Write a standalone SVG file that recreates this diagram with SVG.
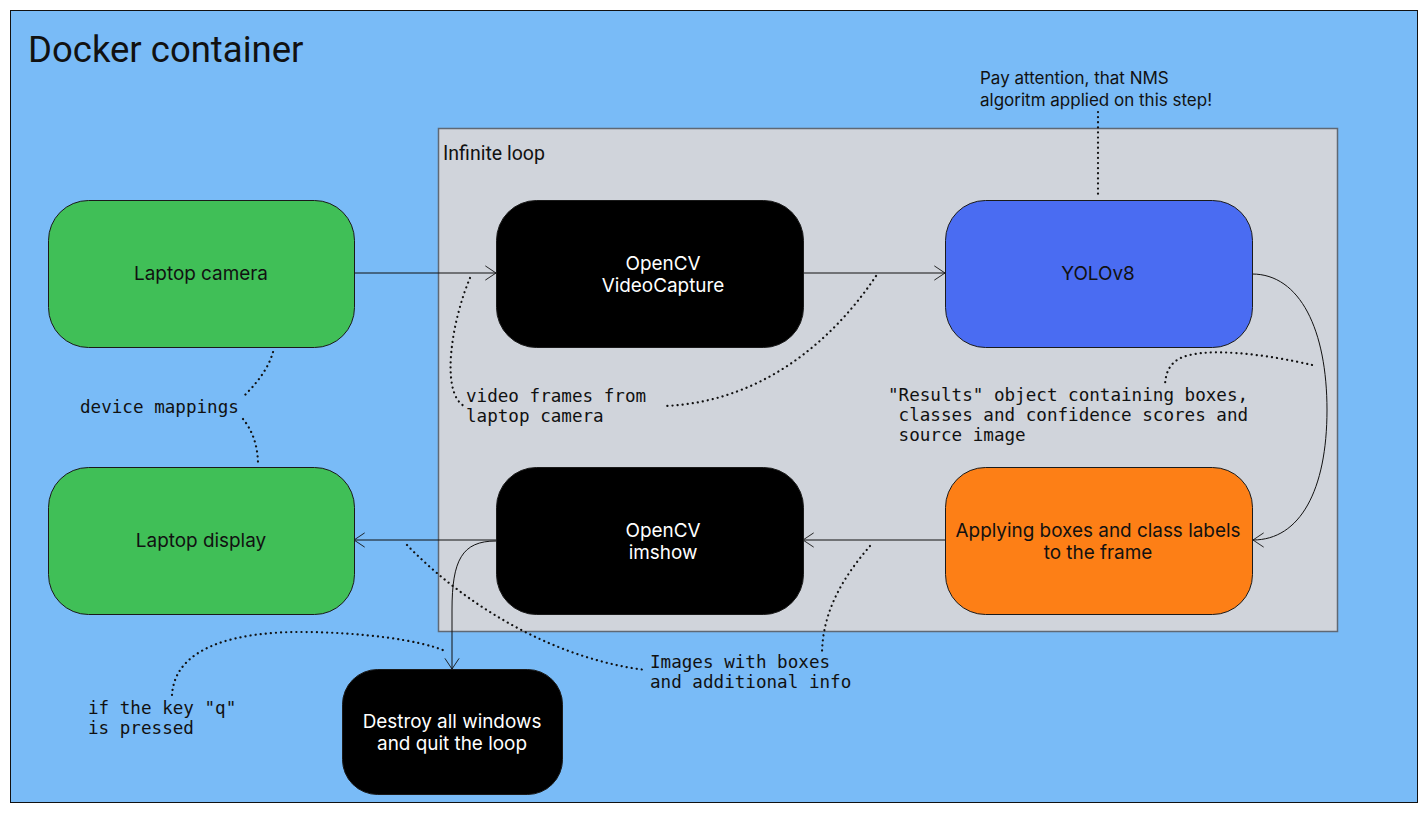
<svg xmlns="http://www.w3.org/2000/svg" width="1428" height="815" viewBox="0 0 1428 815">
<style>
.node{stroke:#1a1a1a;stroke-width:1}
.lbl{font-family:Inter,"Noto Sans",sans-serif;font-size:18.9px;text-anchor:middle}
.wt{fill:#ffffff}
.bt{fill:#111111}
.mono{font-family:"DejaVu Sans Mono","Liberation Mono",monospace;font-size:17.6px;fill:#111111}
.note{font-family:Inter,"Noto Sans",sans-serif;font-size:17px;fill:#111111}
.conn{fill:none;stroke:#111111;stroke-width:1}
.dot{fill:none;stroke:#111111;stroke-width:2.2;stroke-dasharray:0.1 5;stroke-linecap:round}
</style>
<defs>
<marker id="arr" markerUnits="userSpaceOnUse" markerWidth="16" markerHeight="16" viewBox="-1 -1 14 18" refX="12" refY="8" orient="auto">
<path d="M0,0 L12,8 L0,16" fill="none" stroke="#111111" stroke-width="1"/>
</marker>
</defs>
<rect width="1428" height="815" fill="#ffffff"/>
<g id="docker-container">
<rect x="10.5" y="10.5" width="1407" height="792" fill="#79bbf7" stroke="#111111" stroke-width="1"/>
<text x="28" y="62" font-family="Roboto,'Noto Sans',sans-serif" font-size="36.5" fill="#111111">Docker container</text>
</g>
<g id="infinite-loop">
<rect x="438.5" y="128.5" width="899" height="503" fill="#d0d4db" stroke="#5f6874" stroke-width="1.5"/>
<text x="443" y="160" font-family="Roboto,'Noto Sans',sans-serif" font-size="19.5" fill="#111111">Infinite loop</text>
</g>
<g id="connectors">
<path class="conn" d="M354,273 L496,273" marker-end="url(#arr)"/>
<path class="conn" d="M803,273 L945,273" marker-end="url(#arr)"/>
<path class="conn" d="M1252,274 C1300,274 1327,330 1327,410 C1327,490 1300,540 1253,540" marker-end="url(#arr)"/>
<path class="conn" d="M945,540 L803,540" marker-end="url(#arr)"/>
<path class="conn" d="M496,540 L354,540" marker-end="url(#arr)"/>
<path class="conn" d="M496,541 C462,541 452,560 452,610 L452,669" marker-end="url(#arr)"/>
<path class="dot" d="M470,278 C452,320 440,392 464,406"/>
<path class="dot" d="M876,276 C840,330 770,402 664,406"/>
<path class="dot" d="M1098,112 L1098,197"/>
<path class="dot" d="M1312,365 C1270,355 1200,345 1177,360 C1168,366 1165,376 1165,387"/>
<path class="dot" d="M273,352 C268,370 255,385 243,397"/>
<path class="dot" d="M243,419 C252,430 258,445 258,465"/>
<path class="dot" d="M407,545 C470,610 560,660 646,670"/>
<path class="dot" d="M870,546 C845,575 822,610 822,655"/>
<path class="dot" d="M172,695 C175,645 240,632 300,632 C360,632 420,640 445,651"/>
</g>
<g id="notes">
<text class="mono"><tspan x="466" y="402">video frames from</tspan><tspan x="466" y="422">laptop camera</tspan></text>
<text class="mono" xml:space="preserve"><tspan x="888" y="401">"Results" object containing boxes,</tspan><tspan x="888" y="421"> classes and confidence scores and</tspan><tspan x="888" y="441"> source image</tspan></text>
<text class="mono" x="80" y="413">device mappings</text>
<text class="mono"><tspan x="650" y="668">Images with boxes</tspan><tspan x="650" y="688">and additional info</tspan></text>
<text class="mono"><tspan x="88" y="714">if the key "q"</tspan><tspan x="88" y="734">is pressed</tspan></text>
<text class="note"><tspan x="980" y="84">Pay attention, that NMS</tspan><tspan x="980" y="106">algoritm applied on this step!</tspan></text>
</g>
<g id="laptop-camera">
<rect class="node" x="48.5" y="200.5" width="306" height="147" rx="40" fill="#40bf57"/>
<text class="lbl bt" x="201" y="280">Laptop camera</text>
</g>
<g id="opencv-videocapture">
<rect class="node" x="496.5" y="200.5" width="307" height="147" rx="40" fill="#000000"/>
<text class="lbl wt"><tspan x="663" y="270">OpenCV</tspan><tspan x="663" y="292">VideoCapture</tspan></text>
</g>
<g id="yolov8">
<rect class="node" x="945.5" y="200.5" width="307" height="147" rx="40" fill="#4a6cf2"/>
<text class="lbl bt" x="1098" y="280">YOLOv8</text>
</g>
<g id="laptop-display">
<rect class="node" x="48.5" y="467.5" width="306" height="147" rx="40" fill="#40bf57"/>
<text class="lbl bt" x="201" y="547">Laptop display</text>
</g>
<g id="opencv-imshow">
<rect class="node" x="496.5" y="467.5" width="307" height="147" rx="40" fill="#000000"/>
<text class="lbl wt"><tspan x="663" y="537">OpenCV</tspan><tspan x="663" y="559">imshow</tspan></text>
</g>
<g id="applying-boxes">
<rect class="node" x="945.5" y="467.5" width="307" height="147" rx="40" fill="#fd7f16"/>
<text class="lbl bt"><tspan x="1098" y="537">Applying boxes and class labels</tspan><tspan x="1098" y="559">to the frame</tspan></text>
</g>
<g id="destroy-windows">
<rect class="node" x="342.5" y="669.5" width="220" height="125" rx="35" fill="#000000"/>
<text class="lbl wt"><tspan x="452" y="728">Destroy all windows</tspan><tspan x="452" y="750">and quit the loop</tspan></text>
</g>
</svg>
